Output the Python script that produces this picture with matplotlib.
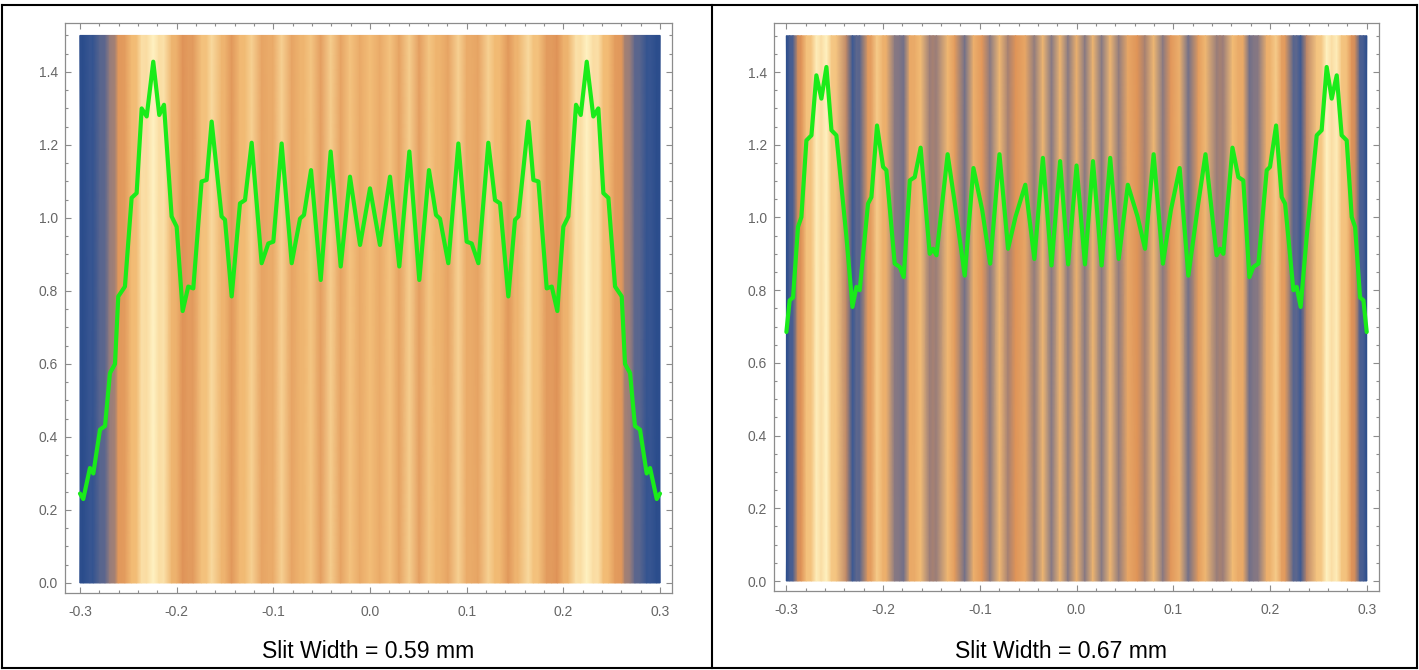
import numpy as np
import matplotlib
matplotlib.use("Agg")
import matplotlib.pyplot as plt
from matplotlib.colors import LinearSegmentedColormap
from matplotlib.lines import Line2D
from matplotlib.ticker import MultipleLocator, FormatStrFormatter

plt.rcParams["font.family"] = ["Liberation Sans", "DejaVu Sans"]

# intensity curve, slit width 0.59 mm
x_a = [-0.300, -0.2966, -0.2897, -0.2862, -0.2793, -0.2741, -0.269, -0.2638,
       -0.2604, -0.2535, -0.2466, -0.2414, -0.2362, -0.231, -0.2242, -0.218,
       -0.2131, -0.2052, -0.200, -0.1938, -0.188, -0.1828, -0.1742, -0.169,
       -0.1638, -0.1535, -0.150, -0.1431, -0.1345, -0.1293, -0.1224, -0.1121,
       -0.1052, -0.100, -0.0914, -0.0810, -0.0724, -0.0683, -0.0610, -0.0510,
       -0.0407, -0.0303, -0.0207, -0.0103, 0.000,
       0.0103, 0.0207, 0.0303, 0.0407, 0.0510, 0.0610, 0.0683, 0.0724,
       0.0810, 0.0914, 0.100, 0.1052, 0.1121, 0.1224, 0.1293, 0.1345,
       0.1431, 0.150, 0.1535, 0.1638, 0.169, 0.1742, 0.1828, 0.188,
       0.1938, 0.200, 0.2052, 0.2131, 0.218, 0.2242, 0.231, 0.2362,
       0.2414, 0.2466, 0.2535, 0.2604, 0.2638, 0.269, 0.2741, 0.2793,
       0.2862, 0.2897, 0.2966, 0.300]
y_a = [0.245, 0.23, 0.315, 0.30, 0.42, 0.43, 0.575, 0.60,
       0.785, 0.812, 1.055, 1.068, 1.30, 1.278, 1.428, 1.282,
       1.31, 1.004, 0.976, 0.745, 0.812, 0.807, 1.10, 1.104,
       1.264, 1.004, 0.995, 0.785, 1.04, 1.049, 1.206, 0.876,
       0.93, 0.935, 1.204, 0.876, 0.998, 1.008, 1.131, 0.830,
       1.182, 0.867, 1.113, 0.926, 1.081,
       0.926, 1.113, 0.867, 1.182, 0.830, 1.131, 1.008, 0.998,
       0.876, 1.204, 0.935, 0.93, 0.876, 1.206, 1.049, 1.04,
       0.785, 0.995, 1.004, 1.264, 1.104, 1.10, 0.807, 0.812,
       0.745, 0.976, 1.004, 1.31, 1.282, 1.428, 1.278, 1.30,
       1.068, 1.055, 0.812, 0.785, 0.60, 0.575, 0.43, 0.42,
       0.30, 0.315, 0.23, 0.245]

# intensity curve, slit width 0.67 mm
x_b = [-0.300, -0.2966, -0.2931, -0.288, -0.2845, -0.2793, -0.2741, -0.269,
       -0.2638, -0.2586, -0.2534, -0.2483, -0.2379, -0.2317, -0.2276, -0.2242,
       -0.2156, -0.2121, -0.2063, -0.200, -0.1966, -0.188, -0.1828, -0.1787,
       -0.1724, -0.1673, -0.1612, -0.1518, -0.1483, -0.1448, -0.1333, -0.1259,
       -0.1156, -0.1066, -0.0975, -0.0893, -0.0797, -0.0708, -0.0630, -0.0530,
       -0.0436, -0.0348, -0.0259, -0.0170, -0.0087, 0.000,
       0.0087, 0.0170, 0.0259, 0.0348, 0.0436, 0.0530, 0.0630, 0.0708,
       0.0797, 0.0893, 0.0975, 0.1066, 0.1156, 0.1259, 0.1333, 0.1448,
       0.1483, 0.1518, 0.1612, 0.1673, 0.1724, 0.1787, 0.1828, 0.188,
       0.1966, 0.200, 0.2063, 0.2121, 0.2156, 0.2242, 0.2276, 0.2317,
       0.2379, 0.2483, 0.2534, 0.2586, 0.2638, 0.269, 0.2741, 0.2793,
       0.2845, 0.288, 0.2931, 0.2966, 0.300]
y_b = [0.685, 0.772, 0.78, 0.974, 1.001, 1.212, 1.226, 1.391,
       1.327, 1.414, 1.24, 1.226, 0.946, 0.754, 0.809, 0.80,
       1.038, 1.056, 1.253, 1.139, 1.13, 0.873, 0.864, 0.836,
       1.102, 1.111, 1.192, 0.90, 0.914, 0.896, 1.174, 1.04,
       0.84, 1.136, 1.02, 0.873, 1.174, 0.914, 1.003, 1.09,
       0.886, 1.164, 0.868, 1.155, 0.871, 1.143,
       0.871, 1.155, 0.868, 1.164, 0.886, 1.09, 1.003, 0.914,
       1.174, 0.873, 1.02, 1.136, 0.84, 1.04, 1.174, 0.896,
       0.914, 0.90, 1.192, 1.111, 1.102, 0.836, 0.864, 0.873,
       1.13, 1.139, 1.253, 1.056, 1.038, 0.80, 0.809, 0.754,
       0.946, 1.226, 1.24, 1.414, 1.327, 1.391, 1.226, 1.212,
       1.001, 0.974, 0.78, 0.772, 0.685]

captions = ["Slit Width = 0.59 mm", "Slit Width = 0.67 mm"]

# Mathematica-like default density gradient
cmap = LinearSegmentedColormap.from_list("m10", [
    (0.00, (0.17, 0.30, 0.55)),
    (0.10, (0.24, 0.35, 0.58)),
    (0.25, (0.52, 0.47, 0.52)),
    (0.42, (0.87, 0.57, 0.34)),
    (0.70, (0.95, 0.74, 0.46)),
    (1.00, (1.00, 0.95, 0.76)),
])

W, H = 1419, 670
fig = plt.figure(figsize=(W / 100, H / 100), dpi=100)

# frame boxes in pixels: left, right, top, bottom
boxes = [(65, 672, 23, 593), (774, 1379, 23, 591)]
limits = [((-0.3155, 0.3124), (-0.0274, 1.534)),
          ((-0.3128, 0.3127), (-0.0275, 1.535))]


def draw_panel(box, lims, xs, ys, caption, cx):
    l, r, t, b = box
    ax = fig.add_axes([l / W, 1 - b / H, (r - l) / W, (b - t) / H])
    xs = np.array(xs)
    ys = np.array(ys)
    X, Y = np.meshgrid(xs, [0, 1.5])
    C = np.vstack([ys, ys])
    ax.pcolormesh(X, Y, C, shading="gouraud", cmap=cmap,
                  vmin=ys.min(), vmax=ys.max(), rasterized=True)
    ax.plot(xs, ys, color="#1aeb1a", lw=3.0, solid_joinstyle="round",
            solid_capstyle="round")
    ax.set_xlim(*lims[0])
    ax.set_ylim(*lims[1])

    ax.xaxis.set_major_locator(MultipleLocator(0.1))
    ax.xaxis.set_minor_locator(MultipleLocator(0.02))
    ax.yaxis.set_major_locator(MultipleLocator(0.2))
    ax.yaxis.set_minor_locator(MultipleLocator(0.05))
    ax.xaxis.set_major_formatter(FormatStrFormatter("%.1f"))
    ax.yaxis.set_major_formatter(FormatStrFormatter("%.1f"))
    ax.tick_params(which="both", direction="in", top=True, right=True,
                   color="#8c8c8c", width=0.8)
    ax.tick_params(which="major", length=4)
    ax.tick_params(which="minor", length=2)
    ax.tick_params(axis="x", which="major", pad=9, labelsize=10,
                   labelcolor="#666666")
    ax.tick_params(axis="y", which="major", pad=5, labelsize=10,
                   labelcolor="#666666")
    for s in ax.spines.values():
        s.set_color("#8c8c8c")
        s.set_linewidth(0.9)

    fig.text(cx / W, 1 - 652 / H, caption, ha="center", va="center",
             fontsize=16.6, color="black")


draw_panel(boxes[0], limits[0], x_a, y_a, captions[0], 368)
draw_panel(boxes[1], limits[1], x_b, y_b, captions[1], 1061)

# table borders
for x in (2, 712, 1417):
    fig.add_artist(Line2D([x / W, x / W], [1 - 5 / H, 1 - 668 / H],
                          color="black", lw=1.5))
for y in (5, 668):
    fig.add_artist(Line2D([2 / W, 1417 / W], [1 - y / H, 1 - y / H],
                          color="black", lw=1.5))

fig.savefig("out.png", dpi=100)
